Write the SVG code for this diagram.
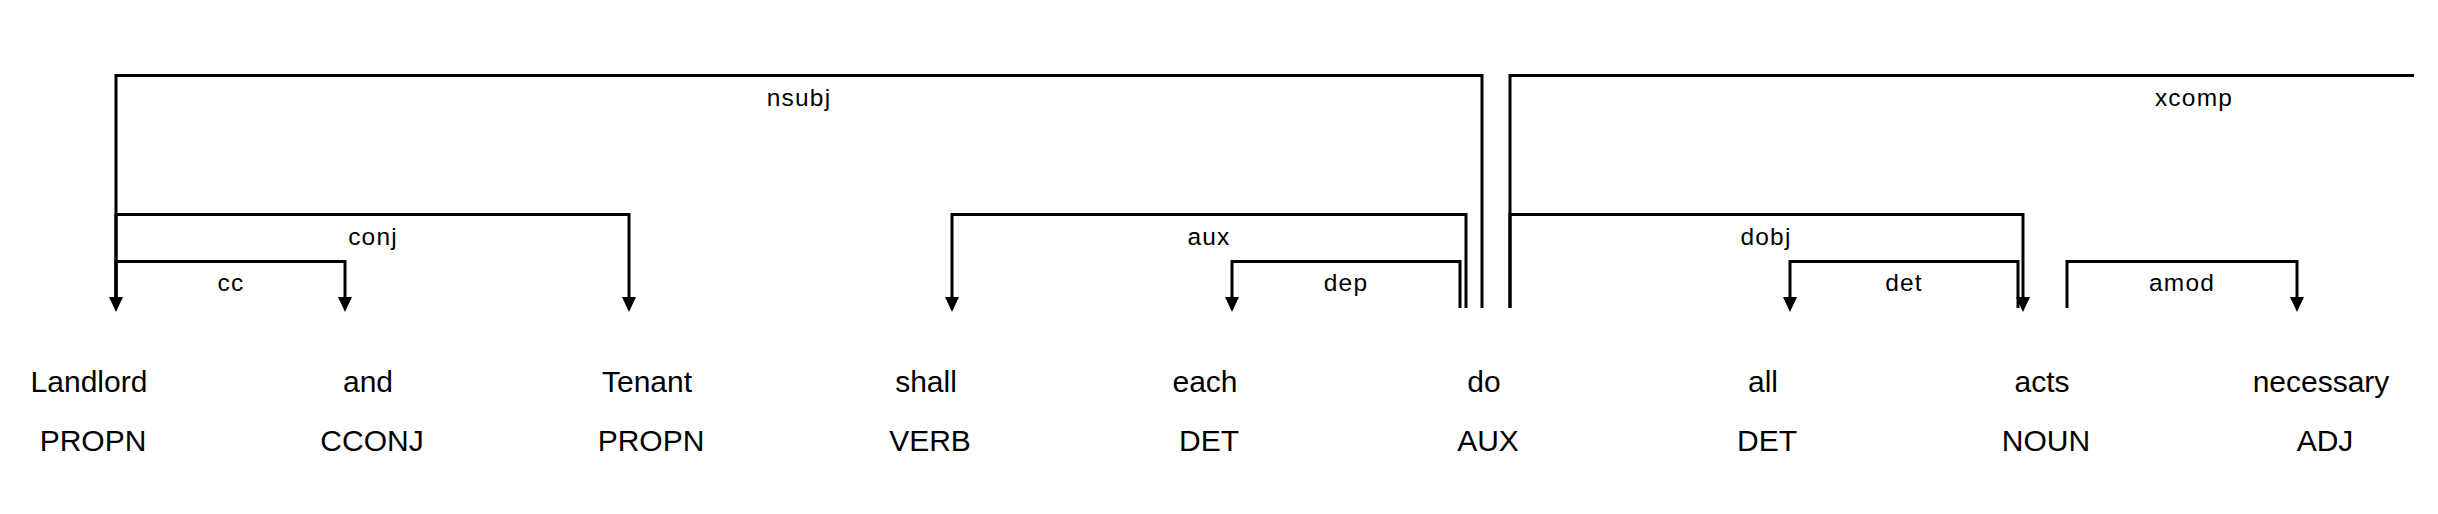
<svg xmlns="http://www.w3.org/2000/svg" width="2438" height="514" viewBox="0 0 2438 514">
<style>
.arc{fill:none;stroke:#000;stroke-width:3;}
.arr{marker-end:url(#ah);}
.lbl{font-family:"Liberation Sans",Arial,sans-serif;font-size:24.5px;letter-spacing:1.2px;text-anchor:middle;fill:#000;}
.word{font-family:"Liberation Sans",Arial,sans-serif;font-size:30px;text-anchor:middle;fill:#000;}
</style>
<defs>
<marker id="ah" markerUnits="userSpaceOnUse" markerWidth="15" markerHeight="14" refX="0" refY="7" orient="auto">
<path d="M0,0 L15,7 L0,14 z" fill="#000"/>
</marker>
</defs>
<rect width="2438" height="514" fill="#fff"/>
<g id="connectors">
<g id="arc-nsubj"><path class="arc arr" d="M1482,308 V75.5 H116 V297"/><text class="lbl" x="799" y="106">nsubj</text></g>
<g id="arc-conj"><path class="arc arr" d="M116,308 V214.5 H629 V297"/><text class="lbl" x="373" y="245">conj</text></g>
<g id="arc-cc"><path class="arc arr" d="M116,308 V261.5 H345 V297"/><text class="lbl" x="231" y="291">cc</text></g>
<g id="arc-aux"><path class="arc arr" d="M1466,308 V214.5 H952 V297"/><text class="lbl" x="1209" y="245">aux</text></g>
<g id="arc-dep"><path class="arc arr" d="M1460,308 V261.5 H1232 V297"/><text class="lbl" x="1346" y="291">dep</text></g>
<g id="arc-xcomp"><path class="arc" d="M1510,308 V75.5 H2414"/><text class="lbl" x="2194" y="106">xcomp</text></g>
<g id="arc-dobj"><path class="arc arr" d="M1510,308 V214.5 H2023 V297"/><text class="lbl" x="1766" y="245">dobj</text></g>
<g id="arc-det"><path class="arc arr" d="M2018,308 V261.5 H1790 V297"/><text class="lbl" x="1904" y="291">det</text></g>
<g id="arc-amod"><path class="arc arr" d="M2067,308 V261.5 H2297 V297"/><text class="lbl" x="2182" y="291">amod</text></g>
</g>
<g id="w0"><text class="word" x="89" y="392">Landlord</text><text class="word" x="93" y="451">PROPN</text></g>
<g id="w1"><text class="word" x="368" y="392">and</text><text class="word" x="372" y="451">CCONJ</text></g>
<g id="w2"><text class="word" x="647" y="392">Tenant</text><text class="word" x="651" y="451">PROPN</text></g>
<g id="w3"><text class="word" x="926" y="392">shall</text><text class="word" x="930" y="451">VERB</text></g>
<g id="w4"><text class="word" x="1205" y="392">each</text><text class="word" x="1209" y="451">DET</text></g>
<g id="w5"><text class="word" x="1484" y="392">do</text><text class="word" x="1488" y="451">AUX</text></g>
<g id="w6"><text class="word" x="1763" y="392">all</text><text class="word" x="1767" y="451">DET</text></g>
<g id="w7"><text class="word" x="2042" y="392">acts</text><text class="word" x="2046" y="451">NOUN</text></g>
<g id="w8"><text class="word" x="2321" y="392">necessary</text><text class="word" x="2325" y="451">ADJ</text></g>
</svg>
